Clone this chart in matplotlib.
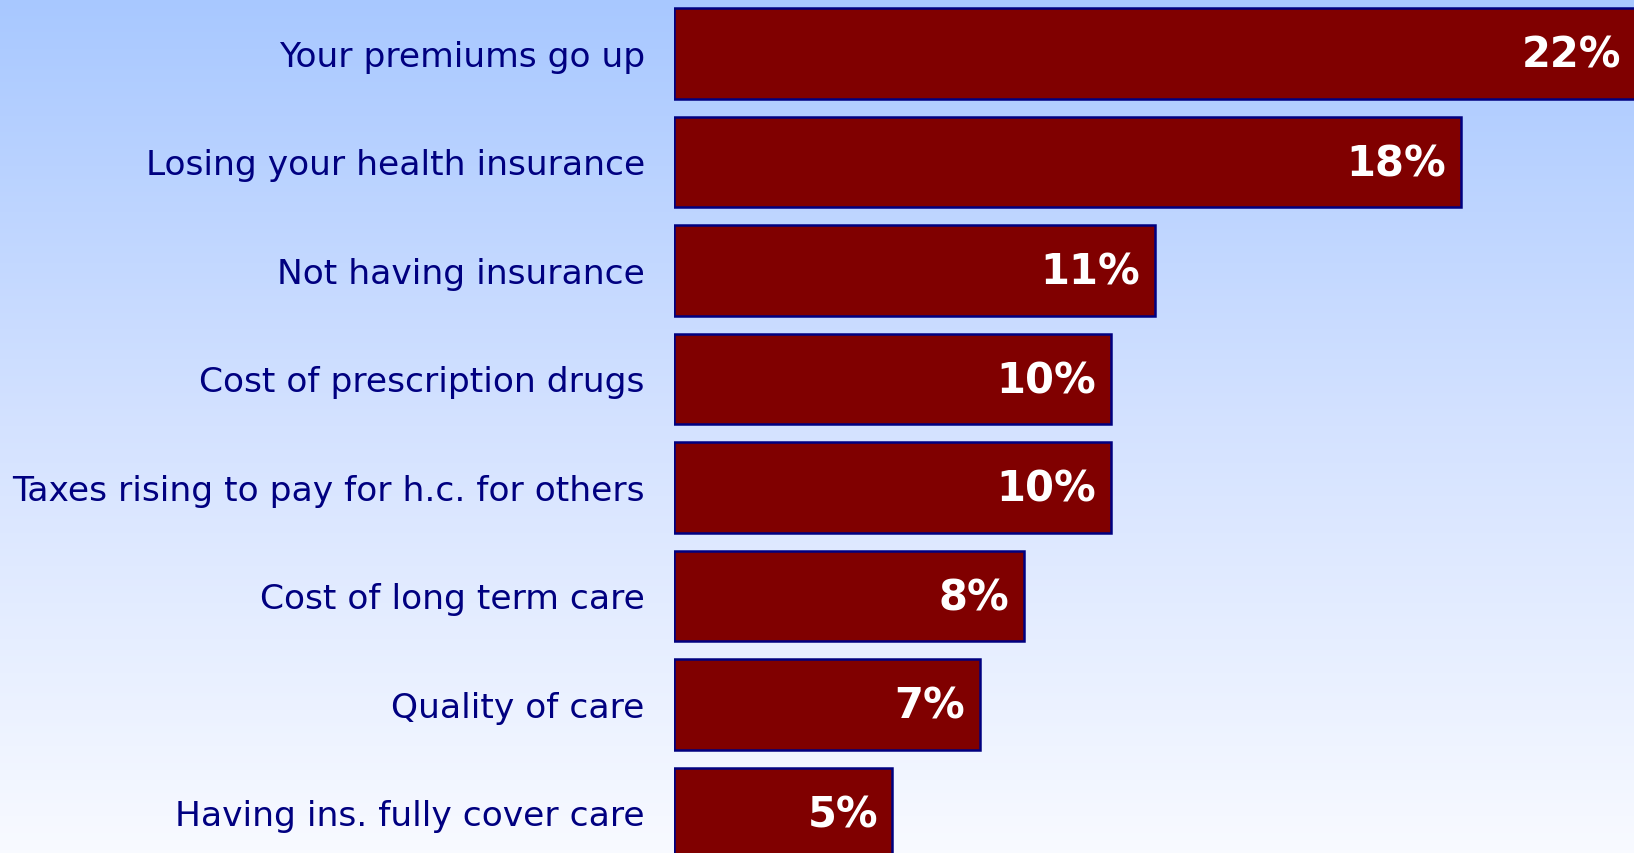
import numpy as np
import matplotlib
matplotlib.use("Agg")
import matplotlib.pyplot as plt
from matplotlib.colors import LinearSegmentedColormap

# dane z wykresu
categories = [
    "Your premiums go up",
    "Losing your health insurance",
    "Not having insurance",
    "Cost of prescription drugs",
    "Taxes rising to pay for h.c. for others",
    "Cost of long term care",
    "Quality of care",
    "Having ins. fully cover care",
]
values = [22, 18, 11, 10, 10, 8, 7, 5]
value_labels = ["22%", "18%", "11%", "10%", "10%", "8%", "7%", "5%"]

W, H = 1634, 853
fig = plt.figure(figsize=(W / 100, H / 100 + 0.001), dpi=100)

# tło z gradientem (jasnoniebieski -> prawie biały)
bg = fig.add_axes([0, 0, 1, 1], zorder=0)
grad = np.linspace(0, 1, 256).reshape(-1, 1)
cmap = LinearSegmentedColormap.from_list("bg", ["#a8c8ff", "#d4e2ff", "#f8faff"])
bg.imshow(grad, aspect="auto", cmap=cmap, extent=[0, 1, 1, 0])
bg.set_axis_off()

# osie z paskami
left = 674 / W
ax = fig.add_axes([left, 0, 1 - left, 1], zorder=1)
ax.patch.set_alpha(0)
y = np.arange(len(categories))
ax.barh(y, values, height=0.835, color="#800000", edgecolor="#000080", linewidth=1.8)
ax.set_xlim(0, 21.97)
ax.set_ylim(7.367, -0.495)

ax.set_yticks(y)
ax.set_yticklabels(categories, fontsize=24.8, color="#000080", family="DejaVu Sans")
ax.tick_params(axis="y", length=0, pad=21)
ax.set_xticks([])
for s in ax.spines.values():
    s.set_visible(False)

# etykiety wartości w paskach
for yi, v, lab in zip(y, values, value_labels):
    ax.text(v - 0.33, yi + 0.02, lab, ha="right", va="center", color="white",
            fontsize=30, fontweight="bold", family="DejaVu Sans")

fig.savefig("out.png", dpi=100)
